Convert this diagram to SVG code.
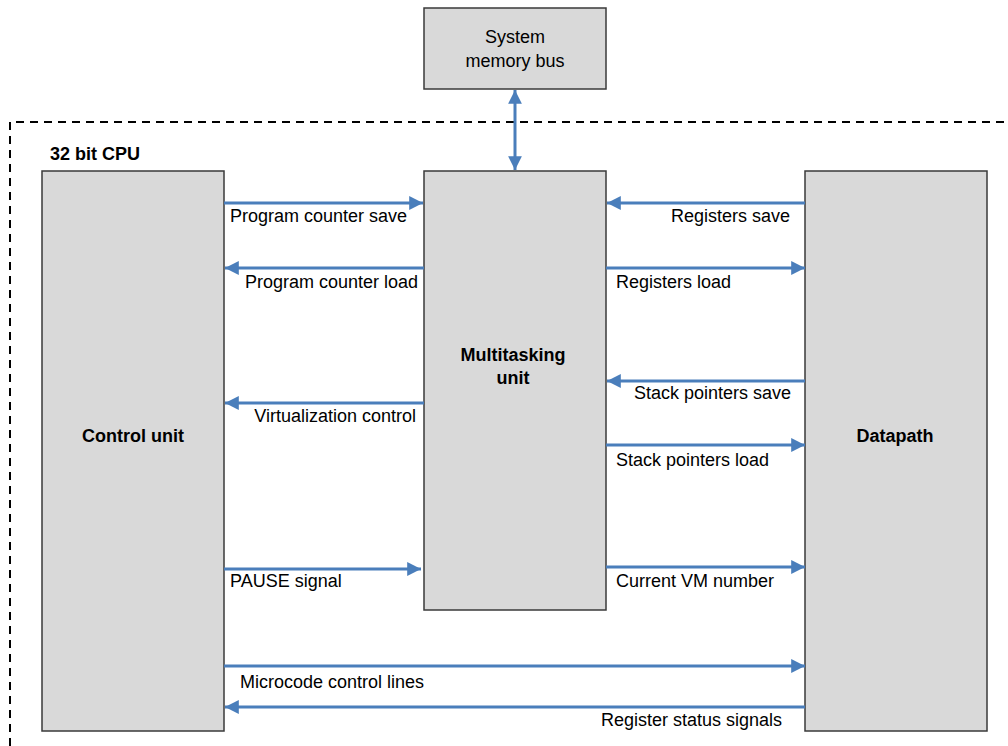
<svg xmlns="http://www.w3.org/2000/svg" width="1008" height="746" viewBox="0 0 1008 746">
<style>
.box{fill:#d9d9d9;stroke:#3a3a3a;stroke-width:1.5}
.t{font-family:"Liberation Sans",Arial,sans-serif;font-size:18px;fill:#000}
.b{font-family:"Liberation Sans",Arial,sans-serif;font-size:18px;font-weight:bold;fill:#000}
.c{stroke:#4a7ebb;stroke-width:3;fill:none}
</style>
<defs>
<marker id="ah" viewBox="0 0 10 10" refX="10" refY="5" markerWidth="5" markerHeight="4.6" orient="auto-start-reverse" markerUnits="strokeWidth">
<path d="M0,0 L10,5 L0,10 z" fill="#4a7ebb"/>
</marker>
</defs>
<rect width="1008" height="746" fill="#fff"/>
<path d="M10,746 V122 H1008" fill="none" stroke="#000" stroke-width="2" stroke-dasharray="8,6"/>
<text class="b" x="50" y="160">32 bit CPU</text>

<g id="memory">
<rect class="box" x="424" y="8" width="182" height="81"/>
<text class="t" x="515" y="43" text-anchor="middle">System</text>
<text class="t" x="515" y="67" text-anchor="middle">memory bus</text>
</g>
<g id="control">
<rect class="box" x="42" y="171" width="182" height="560"/>
<text class="b" x="133" y="442" text-anchor="middle">Control unit</text>
</g>
<g id="multitasking">
<rect class="box" x="424" y="171" width="182" height="439"/>
<text class="b" x="513" y="361" text-anchor="middle">Multitasking</text>
<text class="b" x="513" y="384" text-anchor="middle">unit</text>
</g>
<g id="datapath">
<rect class="box" x="805" y="171" width="182" height="560"/>
<text class="b" x="895" y="442" text-anchor="middle">Datapath</text>
</g>

<g id="connectors">
<line class="c" x1="515" y1="90" x2="515" y2="170" marker-start="url(#ah)" marker-end="url(#ah)"/>
<line class="c" x1="224" y1="203" x2="423" y2="203" marker-end="url(#ah)"/>
<line class="c" x1="424" y1="268" x2="225" y2="268" marker-end="url(#ah)"/>
<line class="c" x1="424" y1="403" x2="225" y2="403" marker-end="url(#ah)"/>
<line class="c" x1="224" y1="569" x2="421" y2="569" marker-end="url(#ah)"/>
<line class="c" x1="805" y1="203" x2="607" y2="203" marker-end="url(#ah)"/>
<line class="c" x1="606" y1="268" x2="805" y2="268" marker-end="url(#ah)"/>
<line class="c" x1="805" y1="381" x2="607" y2="381" marker-end="url(#ah)"/>
<line class="c" x1="606" y1="445" x2="805" y2="445" marker-end="url(#ah)"/>
<line class="c" x1="606" y1="567" x2="805" y2="567" marker-end="url(#ah)"/>
<line class="c" x1="224" y1="666" x2="805" y2="666" marker-end="url(#ah)"/>
<line class="c" x1="805" y1="707" x2="225" y2="707" marker-end="url(#ah)"/>
<text class="t" x="230" y="222">Program counter save</text>
<text class="t" x="418" y="288" text-anchor="end">Program counter load</text>
<text class="t" x="416" y="422" text-anchor="end">Virtualization control</text>
<text class="t" x="230" y="587">PAUSE signal</text>
<text class="t" x="790" y="222" text-anchor="end">Registers save</text>
<text class="t" x="616" y="288">Registers load</text>
<text class="t" x="791" y="399" text-anchor="end">Stack pointers save</text>
<text class="t" x="616" y="466">Stack pointers load</text>
<text class="t" x="616" y="587">Current VM number</text>
<text class="t" x="240" y="688">Microcode control lines</text>
<text class="t" x="782" y="726" text-anchor="end">Register status signals</text>
</g>
</svg>
